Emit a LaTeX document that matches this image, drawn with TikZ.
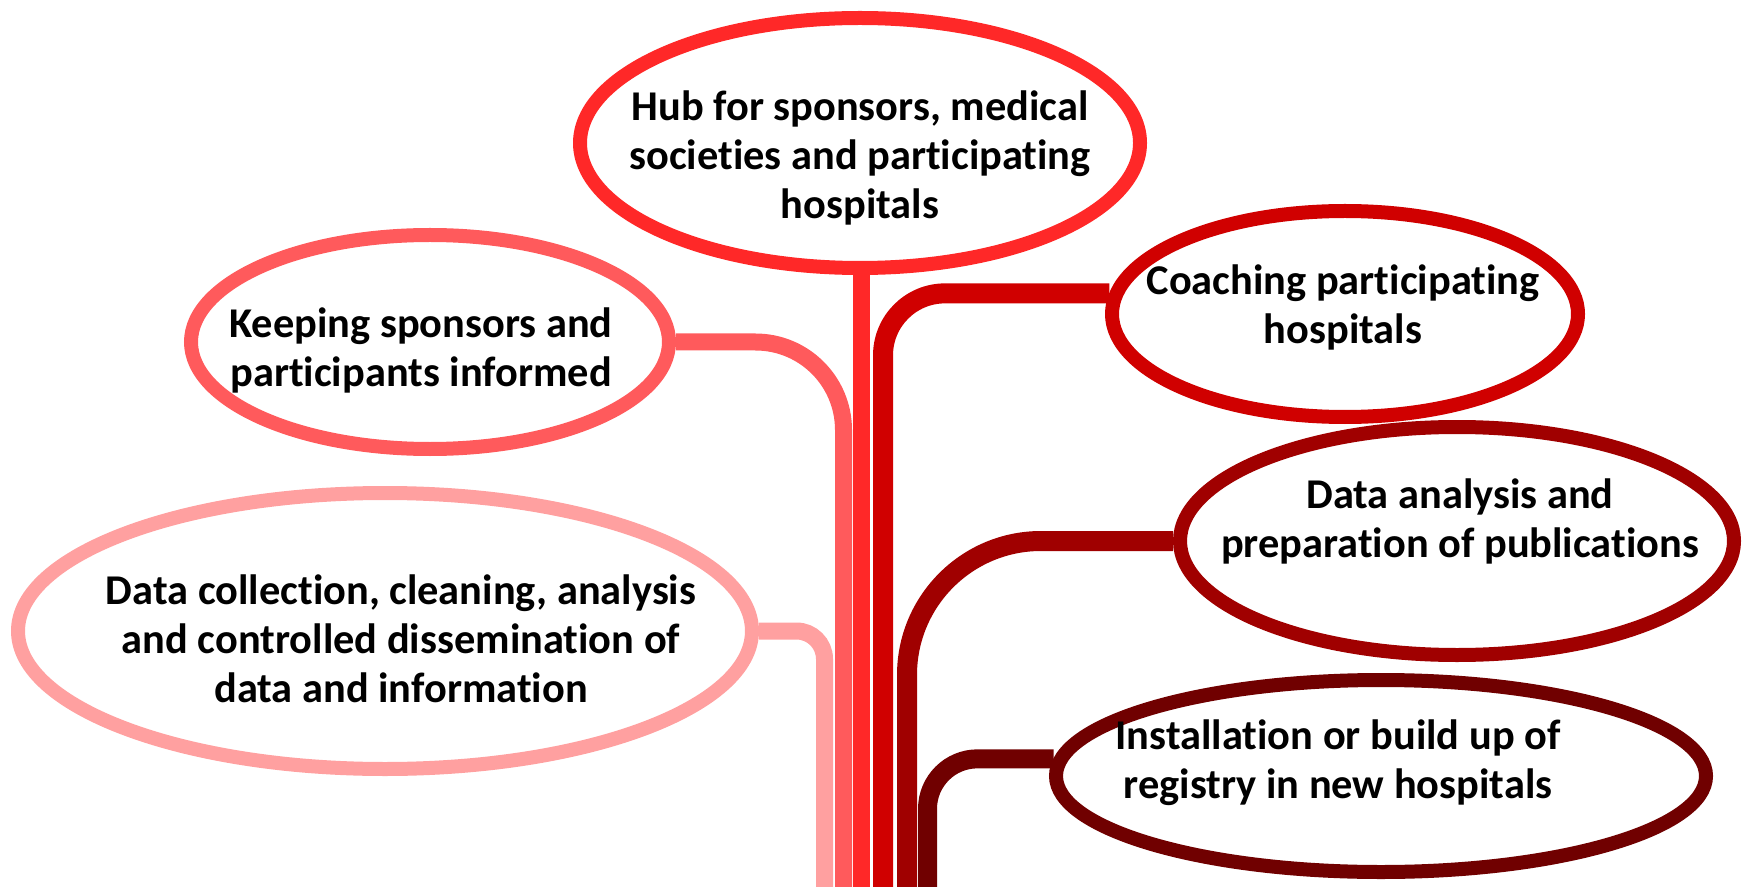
\documentclass[tikz,border=0pt]{standalone}
\usepackage{fontspec}
\setmainfont{Carlito}[Ligatures=NoCommon]
\usetikzlibrary{positioning}
\usetikzlibrary{shapes.geometric}

\definecolor{pinkc}{RGB}{255,160,160}
\definecolor{salmonc}{RGB}{255,90,92}
\definecolor{redc}{RGB}{255,40,40}
\definecolor{coachc}{RGB}{208,0,0}
\definecolor{analysisc}{RGB}{160,0,0}
\definecolor{installc}{RGB}{112,0,0}

\begin{document}
\begin{tikzpicture}[
    x=0.5pt, y=-0.5pt,
    bubble/.style={draw,ellipse,line width=7pt,fill=white,inner sep=0pt},
    txt/.style={font=\fontsize{21.2}{24.5}\selectfont\bfseries,align=center},
    stem/.style={line width=8.5pt}
    ]
    \useasboundingbox (0,0) rectangle (1744,887);

    \node[bubble, draw=redc, minimum width=280pt, minimum height=125pt] (hub) at (860,143) {};
    \node[bubble, draw=salmonc, minimum width=239pt, minimum height=107pt] (keep) at (430,342) {};
    \node[bubble, draw=pinkc, minimum width=367pt, minimum height=138pt] (collect) at (385,631) {};
    \node[bubble, draw=coachc, minimum width=233pt, minimum height=103pt] (coach) at (1345,314) {};
    \node[bubble, draw=analysisc, minimum width=277pt, minimum height=114pt] (analysis) at (1457,541) {};
    \node[bubble, draw=installc, minimum width=325pt, minimum height=96pt] (install) at (1381,776) {};

    \node[txt] (hubtxt) at (860,158) {Hub for sponsors, medical\\ societies and participating\\ hospitals};
    \node[txt] (keeptxt) at (421,350) {Keeping sponsors and\\ participants informed};
    \node[txt] (collecttxt) at (401,639) {Data collection, cleaning, analysis\\ and controlled dissemination of\\ data and information};
    \node[txt] (coachtxt) at (1343,307) {Coaching participating\\ hospitals};
    \node[txt] (analysistxt) at (1460,521) {Data analysis and\\ preparation of publications};
    \node[txt] (installtxt) at (1338,763) {Installation or build up of\\ registry in new hospitals};

    % stem ends at the bottom
    \coordinate (b1) at (824.5,887);
    \coordinate (b2) at (843.5,887);
    \coordinate (b3) at (861.5,887);
    \coordinate (b4) at (883,887);
    \coordinate (b5) at (907,887);
    \coordinate (b6) at (927.5,887);

    \draw[stem, pinkc, rounded corners=14pt] (collect.east) -| (b1);
    \draw[stem, salmonc, rounded corners=44pt] (keep.east) -| (b2);
    \draw[stem, redc] (hub.south -| b3) -- (b3);
    \draw[stem, coachc, line width=10pt, rounded corners=31pt] (coach.175.5) -| (b4);
    \draw[stem, analysisc, line width=10pt, rounded corners=67pt] (analysis.west) -| (b5);
    \draw[stem, installc, line width=9.5pt, rounded corners=25pt] (install.177.7) -| (b6);

  \end{tikzpicture}
\end{document}
